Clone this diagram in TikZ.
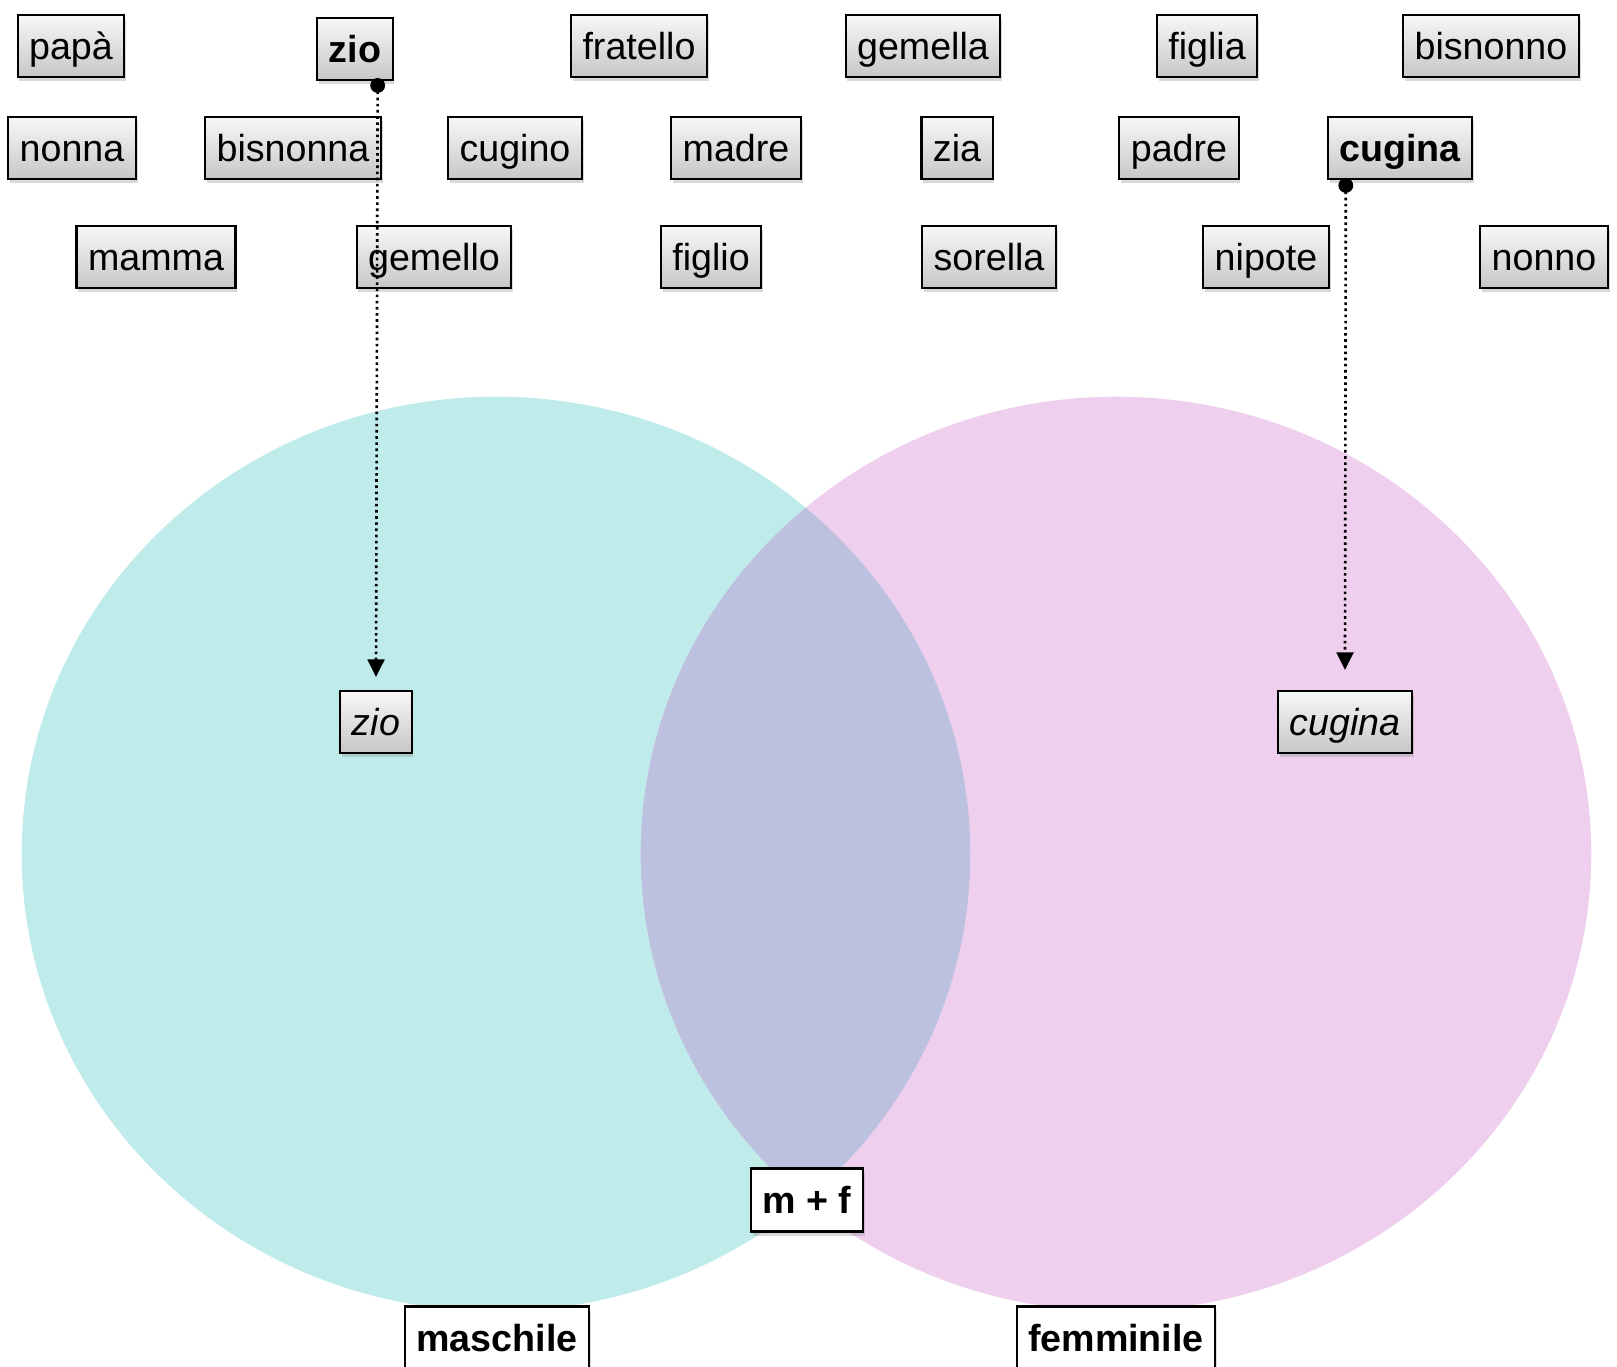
\documentclass[tikz,border=0pt]{standalone}
\usepackage{fontspec}
\setmainfont{Liberation Sans}
\usetikzlibrary{arrows.meta, shadows}

\definecolor{maschcol}{HTML}{BFECEA}
\definecolor{femmcol}{HTML}{EFCFEE}
\definecolor{mixcol}{HTML}{BDC1E0}

\tikzset{
  word/.style={draw=black, line width=0.6pt, top color=white!97!black, bottom color=black!22,
    drop shadow={shadow xshift=0.5pt, shadow yshift=-1.2pt, opacity=0.3},
    minimum height=0.62cm, inner xsep=0.115cm, text height=9pt, text depth=1.3pt,
    font=\fontsize{10.7}{12}\selectfont},
  label box/.style={draw=black, line width=0.6pt, fill=white,
    drop shadow={shadow xshift=0.5pt, shadow yshift=-1.2pt, opacity=0.3},
    minimum height=0.63cm, inner xsep=0.115cm, text height=9pt, text depth=1.3pt,
    font=\fontsize{10.7}{12}\selectfont\bfseries},
  link/.style={line width=0.75pt, densely dotted, {Circle[length=4.2pt]}-{Triangle[length=5pt, width=4.8pt]}}
}

\begin{document}
\begin{tikzpicture}[x=0.01cm, y=-0.01cm]
    \useasboundingbox (0,0) rectangle (1617,1367);

    % the two sets
    \fill[maschcol] (496,854) ellipse [x radius=4.74cm, y radius=4.57cm];
    \fill[femmcol] (1116,854) ellipse [x radius=4.75cm, y radius=4.57cm];
    \begin{scope}
        \clip (496,854) ellipse [x radius=4.74cm, y radius=4.57cm];
        \fill[mixcol] (1116,854) ellipse [x radius=4.75cm, y radius=4.57cm];
    \end{scope}

    % words, first row
    \node[word] (papa) at (71,46) {papà};
    \node[word, font=\fontsize{10.7}{12}\selectfont\bfseries] (zio) at (355,49) {zio};
    \node[word] (fratello) at (639,46) {fratello};
    \node[word] (gemella) at (923,46) {gemella};
    \node[word] (figlia) at (1207,46) {figlia};
    \node[word] (bisnonno) at (1491,46) {bisnonno};

    % second row
    \node[word] (nonna) at (72,148) {nonna};
    \node[word] (bisnonna) at (293,148) {bisnonna};
    \node[word] (cugino) at (515,148) {cugino};
    \node[word] (madre) at (736,148) {madre};
    \node[word] (zia) at (957,148) {zia};
    \node[word] (padre) at (1179,148) {padre};
    \node[word, font=\fontsize{10.7}{12}\selectfont\bfseries] (cugina) at (1400,148) {cugina};

    % third row
    \node[word] (mamma) at (156,257) {mamma};
    \node[word] (gemello) at (434,257) {gemello};
    \node[word] (figlio) at (711,257) {figlio};
    \node[word] (sorella) at (989,257) {sorella};
    \node[word] (nipote) at (1266,257) {nipote};
    \node[word] (nonno) at (1544,257) {nonno};

    % placed words
    \node[word, font=\fontsize{10.7}{12}\selectfont\itshape] (zioM) at (376,722) {zio};
    \node[word, font=\fontsize{10.7}{12}\selectfont\itshape] (cuginaF) at (1345,722) {cugina};

    \draw[link] ([xshift=-0.16cm, yshift=0.03cm]zio.south east) -- ([yshift=0.13cm]zioM.north);
    \draw[link] ([xshift=0.19cm, yshift=0.02cm]cugina.south west) -- ([yshift=0.2cm]cuginaF.north);

    % set labels
    \node[label box] (mf) at (807,1200) {m + f};
    \node[label box] (masch) at (497,1338) {maschile};
    \node[label box] (femm) at (1116,1338) {femminile};
\end{tikzpicture}
\end{document}
